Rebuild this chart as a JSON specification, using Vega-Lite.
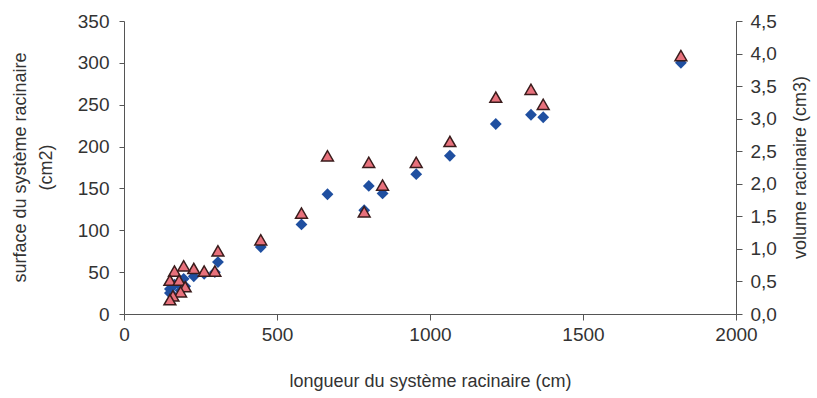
{
  "$schema": "https://vega.github.io/schema/vega-lite/v6.json",
  "autosize": {"type": "none"},
  "width": 612,
  "height": 293,
  "padding": {"left": 124, "top": 21, "right": 81, "bottom": 84},
  "background": "white",
  "config": {
    "view": {"stroke": null},
    "font": "Liberation Sans",
    "axis": {
      "labelFont": "Liberation Sans",
      "titleFont": "Liberation Sans",
      "labelFontSize": 19,
      "titleFontSize": 18,
      "titleFontWeight": "normal",
      "labelColor": "#333333",
      "titleColor": "#333333",
      "domainColor": "#555555",
      "tickColor": "#555555",
      "grid": false
    }
  },
  "data": {
    "values": [
      {"longueur": 1820, "surface": 300, "volume": 3.97},
      {"longueur": 1370, "surface": 235, "volume": 3.22},
      {"longueur": 1330, "surface": 238, "volume": 3.45},
      {"longueur": 1215, "surface": 227, "volume": 3.33},
      {"longueur": 1065, "surface": 189, "volume": 2.65},
      {"longueur": 955, "surface": 167, "volume": 2.33},
      {"longueur": 845, "surface": 144, "volume": 1.98},
      {"longueur": 800, "surface": 153, "volume": 2.33},
      {"longueur": 785, "surface": 124, "volume": 1.57},
      {"longueur": 665, "surface": 143, "volume": 2.43},
      {"longueur": 580, "surface": 107, "volume": 1.55},
      {"longueur": 447, "surface": 80, "volume": 1.14},
      {"longueur": 307, "surface": 62, "volume": 0.97},
      {"longueur": 297, "surface": 50, "volume": 0.66},
      {"longueur": 262, "surface": 48, "volume": 0.66},
      {"longueur": 228, "surface": 45, "volume": 0.7},
      {"longueur": 195, "surface": 42, "volume": 0.74},
      {"longueur": 165, "surface": 35, "volume": 0.66},
      {"longueur": 150, "surface": 30, "volume": 0.52},
      {"longueur": 180, "surface": 36, "volume": 0.52},
      {"longueur": 200, "surface": 33, "volume": 0.42},
      {"longueur": 185, "surface": 28, "volume": 0.34},
      {"longueur": 160, "surface": 22, "volume": 0.28},
      {"longueur": 150, "surface": 25, "volume": 0.22}
    ]
  },
  "encoding": {
    "x": {
      "field": "longueur",
      "type": "quantitative",
      "scale": {"domain": [0, 2000], "nice": false, "zero": true},
      "axis": {
        "title": "longueur du système racinaire (cm)",
        "values": [0, 500, 1000, 1500, 2000],
        "format": "d",
        "labelFlush": false,
        "tickSize": 6,
        "labelPadding": 5,
        "titlePadding": 28
      }
    }
  },
  "layer": [
    {
      "mark": {"type": "point", "shape": "diamond", "filled": true, "size": 140, "color": "#1f4fa0", "opacity": 1},
      "encoding": {
        "y": {
          "field": "surface",
          "type": "quantitative",
          "scale": {"domain": [0, 350], "nice": false},
          "axis": {
            "orient": "left",
            "title": ["surface du système racinaire", "(cm2)"],
            "titleX": -104,
            "titleY": 146,
            "titleAngle": -90,
            "titleAlign": "center",
            "titleBaseline": "middle",
            "titleLineHeight": 26,
            "values": [0, 50, 100, 150, 200, 250, 300, 350],
            "labelFlush": false,
            "tickSize": 5,
            "labelPadding": 10
          }
        }
      }
    },
    {
      "mark": {"type": "point", "shape": "triangle-up", "filled": true, "size": 140, "fill": "#e8717c", "stroke": "#3a1c1c", "strokeWidth": 1.5, "opacity": 1},
      "encoding": {
        "y": {
          "field": "volume",
          "type": "quantitative",
          "scale": {"domain": [0, 4.5], "nice": false},
          "axis": {
            "orient": "right",
            "title": "volume racinaire (cm3)",
            "titleX": 64,
            "titleY": 146,
            "titleAngle": -90,
            "titleAlign": "center",
            "titleBaseline": "middle",
            "values": [0, 0.5, 1, 1.5, 2, 2.5, 3, 3.5, 4, 4.5],
            "labelExpr": "replace(format(datum.value, '.1f'), '.', ',')",
            "labelFlush": false,
            "tickSize": 6,
            "labelPadding": 8
          }
        }
      }
    }
  ],
  "resolve": {"scale": {"y": "independent"}}
}
